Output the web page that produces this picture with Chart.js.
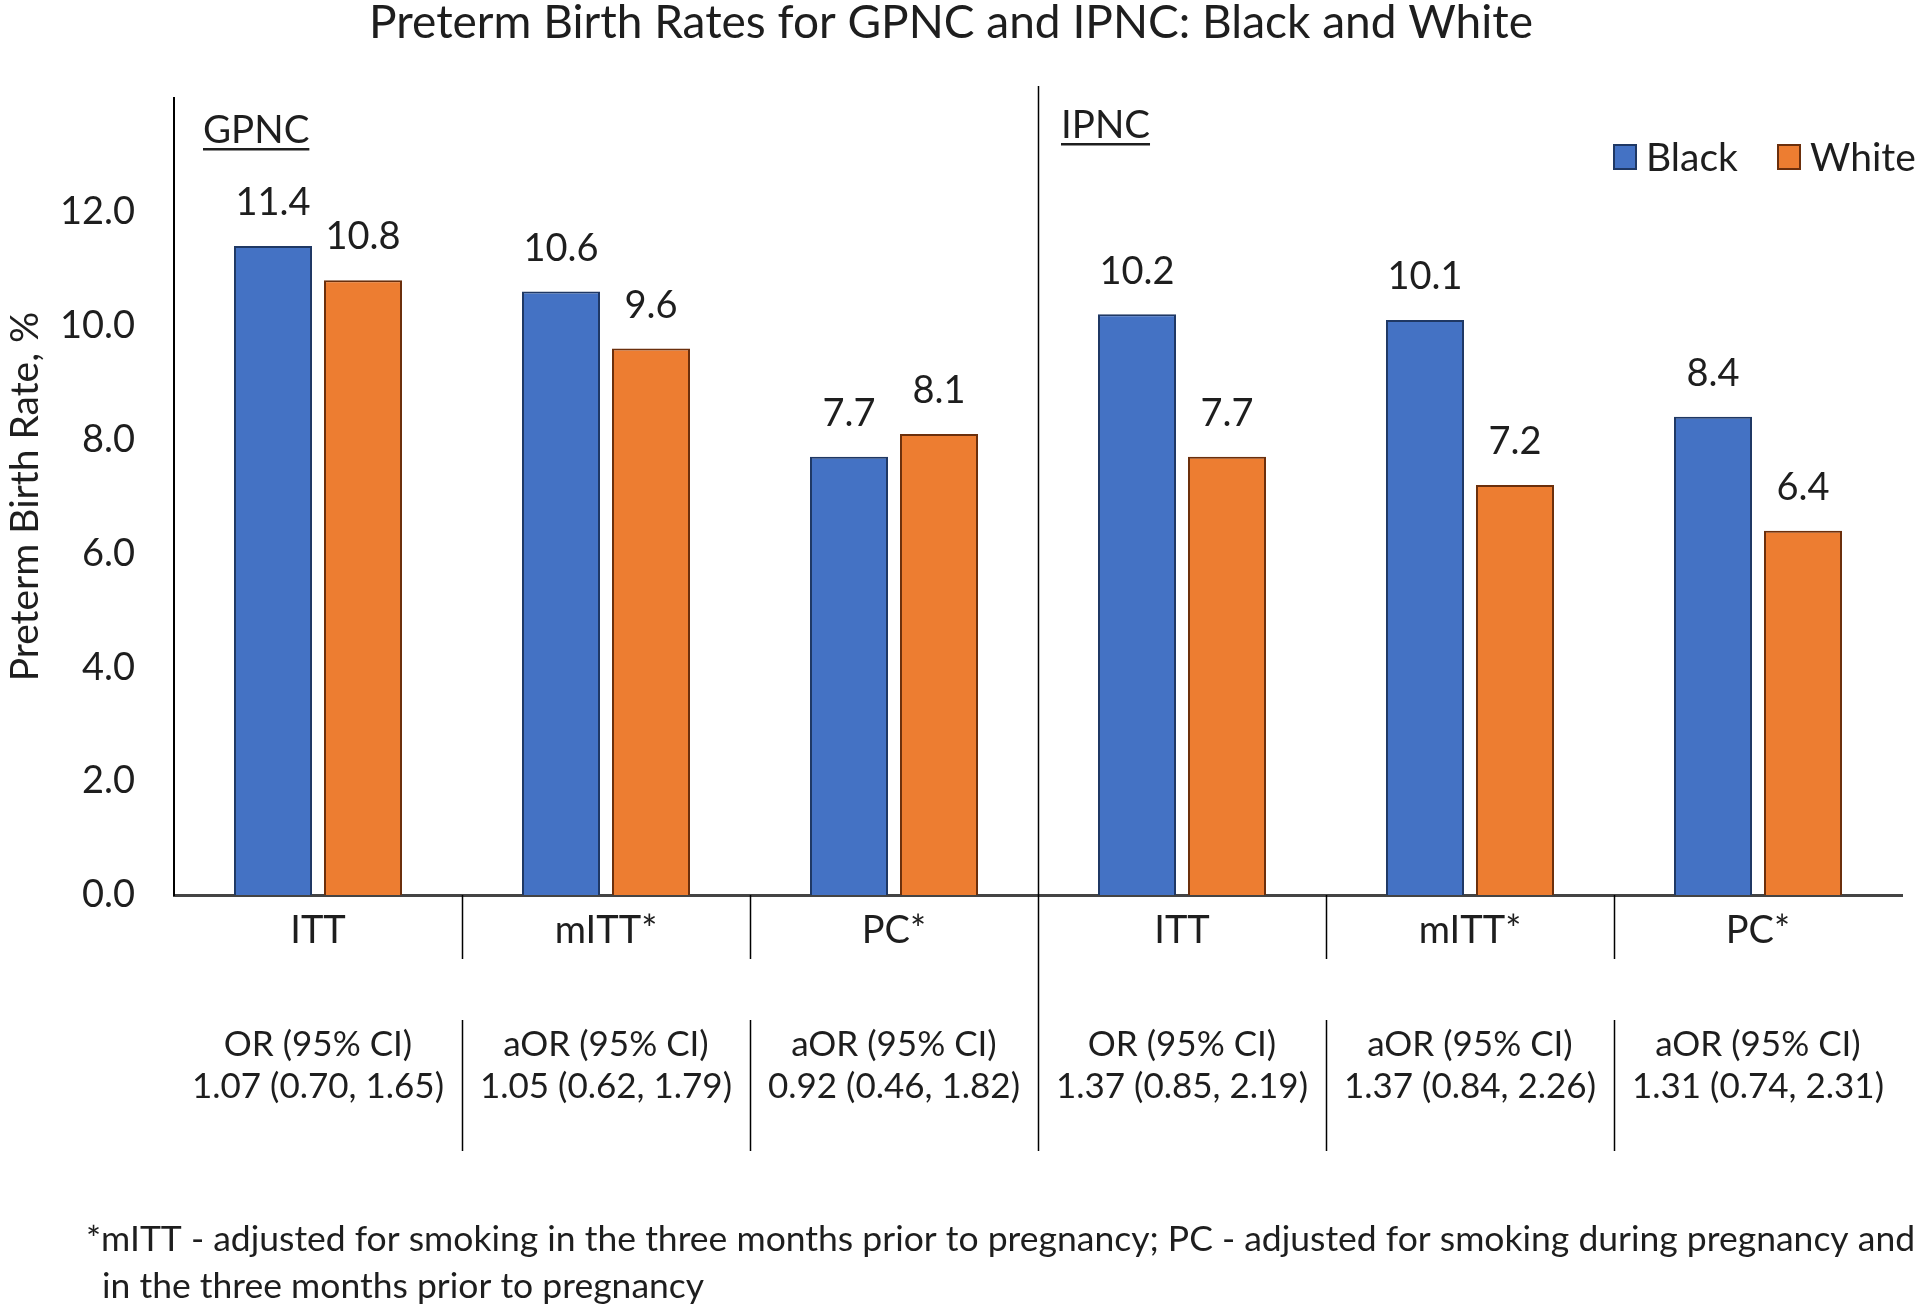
<!DOCTYPE html>
<html><head><meta charset="utf-8">
<script src="https://cdn.jsdelivr.net/npm/chart.js@4.4.1/dist/chart.umd.min.js"></script>
<style>html,body{margin:0;padding:0;background:#fff;} #wrap{width:1920px;height:1313px;position:relative;}</style>
</head><body><div id="wrap"><canvas id="c" width="1920" height="1313"></canvas></div>
<script>
const categories = ["ITT", "mITT*", "PC*", "ITT", "mITT*", "PC*"];
const groupNames = ["GPNC", "IPNC"];
const seriesNames = ["Black", "White"];
const blackRates = [11.4, 10.6, 7.7, 10.2, 10.1, 8.4];
const whiteRates = [10.8, 9.6, 8.1, 7.7, 7.2, 6.4];
const orHeaders = ["OR (95% CI)", "aOR (95% CI)", "aOR (95% CI)", "OR (95% CI)", "aOR (95% CI)", "aOR (95% CI)"];
const orValues = ["1.07 (0.70, 1.65)", "1.05 (0.62, 1.79)", "0.92 (0.46, 1.82)", "1.37 (0.85, 2.19)", "1.37 (0.84, 2.26)", "1.31 (0.74, 2.31)"];
const yMax = 14;
const yStep = 2;
const titleText = "Preterm Birth Rates for GPNC and IPNC: Black and White";
const yTitle = "Preterm Birth Rate, %";
const footnoteLines = [
  "*mITT - adjusted for smoking in the three months prior to pregnancy; PC - adjusted for smoking during pregnancy and",
  "in the three months prior to pregnancy"
];

const FONT = "Lato, 'Open Sans', sans-serif";
const TXT = "#1e1e1e";
const fillColors = ["#4472C4", "#ED7D31"];
const edgeColors = ["#1F3864", "#6B2F0C"];

const overlay = {
  id: "overlay",
  afterDraw(chart) {
    const ctx = chart.ctx;
    const ca = chart.chartArea;
    const xs = chart.scales.x;
    ctx.save();
    // data labels
    ctx.fillStyle = TXT;
    ctx.font = "38px " + FONT;
    ctx.textAlign = "center";
    ctx.textBaseline = "middle";
    chart.data.datasets.forEach((ds, di) => {
      chart.getDatasetMeta(di).data.forEach((bar, i) => {
        ctx.fillText(ds.data[i].toFixed(1), bar.x, bar.y - 43);
      });
    });
    // separators
    const n = categories.length;
    const half = n / 2;
    ctx.strokeStyle = "#000";
    ctx.lineWidth = 1.5;
    for (let i = 1; i < n; i++) {
      const x = Math.round((xs.getPixelForValue(i - 1) + xs.getPixelForValue(i)) / 2) + 0.5;
      ctx.beginPath();
      if (i === half) {
        ctx.moveTo(x, ca.top - 12);
        ctx.lineTo(x, ca.bottom + 256);
      } else {
        ctx.moveTo(x, ca.bottom);
        ctx.lineTo(x, ca.bottom + 64);
        ctx.moveTo(x, ca.bottom + 125);
        ctx.lineTo(x, ca.bottom + 256);
      }
      ctx.stroke();
    }
    // OR rows
    ctx.font = "35px " + FONT;
    ctx.fillStyle = TXT;
    for (let i = 0; i < n; i++) {
      const x = xs.getPixelForValue(i);
      ctx.fillText(orHeaders[i], x, ca.bottom + 150);
      ctx.fillText(orValues[i], x, ca.bottom + 192);
    }
    // group labels (underlined)
    ctx.font = "38.5px " + FONT;
    ctx.textAlign = "left";
    const divX = (xs.getPixelForValue(half - 1) + xs.getPixelForValue(half)) / 2;
    const gPos = [[ca.left + 29, ca.top + 33], [divX + 23, ca.top + 28]];
    groupNames.forEach((g, k) => {
      const [gx, gy] = gPos[k];
      ctx.fillText(g, gx, gy);
      const w = ctx.measureText(g).width;
      ctx.fillRect(gx, gy + 17, w, 2.5);
    });
    // legend
    ctx.font = "39px " + FONT;
    const ly = ca.top + 59;
    const lx = [ca.right - 288, ca.right - 124];
    seriesNames.forEach((s, k) => {
      ctx.fillStyle = fillColors[k];
      ctx.fillRect(lx[k], ly - 12, 22, 24);
      ctx.strokeStyle = edgeColors[k];
      ctx.lineWidth = 2;
      ctx.strokeRect(lx[k], ly - 12, 22, 24);
      ctx.fillStyle = TXT;
      ctx.fillText(s, lx[k] + 32, ly + 1);
    });
    // footnote
    ctx.font = "35.5px " + FONT;
    ctx.textAlign = "left";
    ctx.fillText(footnoteLines[0], 86, ca.bottom + 345);
    ctx.fillText(footnoteLines[1], 102, ca.bottom + 392);
    ctx.restore();
  }
};

new Chart(document.getElementById("c"), {
  type: "bar",
  data: {
    labels: categories,
    datasets: [
      { label: seriesNames[0], data: blackRates, backgroundColor: fillColors[0], borderColor: edgeColors[0], borderWidth: 2 },
      { label: seriesNames[1], data: whiteRates, backgroundColor: fillColors[1], borderColor: edgeColors[1], borderWidth: 2 }
    ]
  },
  options: {
    responsive: false,
    animation: false,
    categoryPercentage: 0.625,
    barPercentage: 0.867,
    layout: { padding: { left: 0, right: 18, top: 0, bottom: 358 } },
    plugins: {
      legend: { display: false },
      tooltip: { enabled: false },
      title: {
        display: true, text: titleText, color: TXT,
        font: { family: FONT, size: 46, weight: "normal", lineHeight: 1 },
        padding: { top: 0, bottom: 52 }
      }
    },
    scales: {
      x: {
        grid: { display: false, drawTicks: false },
        border: { display: true, color: "#444", width: 3 },
        ticks: { color: TXT, font: { family: FONT, size: 38 }, padding: 13, maxRotation: 0, autoSkip: false },
        afterFit(s) { s.height = 60; }
      },
      y: {
        min: 0, max: yMax,
        grid: { display: false, drawTicks: false },
        border: { display: true, color: "#000", width: 2 },
        ticks: {
          stepSize: yStep, color: TXT, padding: 39,
          font: { family: FONT, size: 38 },
          callback: v => (v === yMax ? "" : Number(v).toFixed(1))
        },
        title: { display: true, text: yTitle, color: TXT, font: { family: FONT, size: 39 }, padding: { top: 2, bottom: 0 } },
        afterFit(s) { s.width = 174; }
      }
    }
  },
  plugins: [overlay]
});
</script></body></html>
